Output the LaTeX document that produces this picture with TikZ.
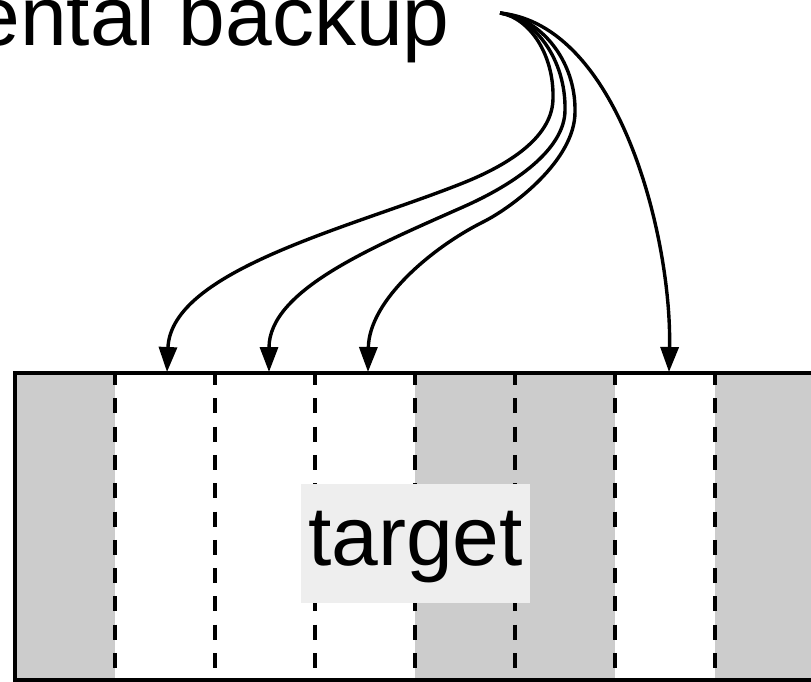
\documentclass[tikz,border=0pt]{standalone}
\usepackage{fontspec}
\setmainfont{Liberation Sans}
\usetikzlibrary{arrows.meta}
\definecolor{colgray}{HTML}{CCCCCC}
\definecolor{lblgray}{HTML}{EEEEEE}
\begin{document}
\begin{tikzpicture}[x=1pt,y=-1pt,
  conn/.style={line width=3.4pt, -{Triangle[length=25pt,width=18pt]}},
  colfill/.style={fill=colgray, draw=none},
  divider/.style={line width=3.4pt, dash pattern=on 15pt off 13.3pt, dash phase=3pt},
  frame/.style={line width=3.4pt},
  bigtext/.style={font=\fontsize{84}{100}\selectfont, inner sep=0pt}]
\useasboundingbox (0,0) rectangle (811,682);
\clip (0,0) rectangle (811,682);
% columns
\fill[colfill] (15,373) rectangle (115,680);
\fill[colfill] (415,373) rectangle (615,680);
\fill[colfill] (715,373) rectangle (815,680);
\foreach \x in {115,215,...,715} \draw[divider] (\x,373) -- (\x,680);
\draw[frame] (15,373) rectangle (815,680);
% labels
\node[bigtext, fill=lblgray, inner xsep=7pt, text height=81pt, text depth=38pt, anchor=base] (target) at (415.5,565) {target};
\node[bigtext, anchor=base east] (title) at (450,46) {incremental backup};
% connector ends
\coordinate (src) at (500,13);
\coordinate (t1) at (167,372);
\coordinate (t2) at (269,372);
\coordinate (t3) at (368,372);
\coordinate (t4) at (669,372);
% connectors
\draw[conn] (src) .. controls (530,18) and (554,55) .. (553,98)
  .. controls (553,135) and (513,163) .. (463,183)
  .. controls (353,227) and (171,270) .. (t1);
\draw[conn] (src) .. controls (535,18) and (566,60) .. (565,110)
  .. controls (565,150) and (513,185) .. (463,207)
  .. controls (373,247) and (269,290) .. (t2);
\draw[conn] (src) .. controls (540,18) and (576,60) .. (575,112)
  .. controls (575,160) and (513,207) .. (483,222)
  .. controls (433,247) and (369,300) .. (t3);
\draw[conn] (src) .. controls (620,25) and (672,240) .. (t4);
\end{tikzpicture}
\end{document}
